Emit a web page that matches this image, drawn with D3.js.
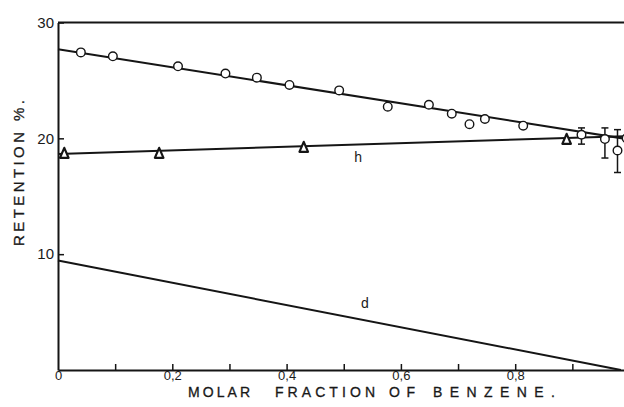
<!DOCTYPE html>
<html>
<head>
<meta charset="utf-8">
<script src="https://cdn.jsdelivr.net/npm/d3@7"></script>
<style>
  html, body { margin: 0; padding: 0; background: #fff; }
  svg { display: block; }
  text { font-family: "Liberation Sans", Arial, sans-serif; fill: #1a1a1a; }
</style>
</head>
<body>
<svg id="chart" width="624" height="407"></svg>
<script>
// Retention of the solute against molar fraction of benzene
const circleX = [0.040, 0.096, 0.210, 0.293, 0.348, 0.405, 0.492, 0.577, 0.649, 0.689, 0.720, 0.747, 0.814, 0.916, 0.957, 0.979, 0.995];
const circleY = [27.42, 27.08, 26.22, 25.59, 25.24, 24.61, 24.14, 22.73, 22.90, 22.13, 21.22, 21.67, 21.09, 20.31, 19.94, 18.95, 20.0];

// error bars on the benzene-rich end
const errX = [0.916, 0.957, 0.979];
const errLow = [19.5, 18.3, 17.05];
const errHigh = [20.9, 20.9, 20.75];

// series h (triangles)
const triX = [0.011, 0.177, 0.430, 0.890];
const triY = [18.73, 18.73, 19.25, 19.94];

// fitted straight lines
const upperFitX = [0, 1];
const upperFitY = [27.7, 19.9];
const hFitX = [0, 1];
const hFitY = [18.65, 20.2];
const dFitX = [0, 0.985];
const dFitY = [9.45, 0];

const xTickValues = [0, 0.2, 0.4, 0.6, 0.8];
const xTickLabels = ["0", "0,2", "0,4", "0,6", "0,8"];
const xMinorTicks = [0.1, 0.3, 0.5, 0.7, 0.9];
const yTickValues = [10, 20, 30];
const yTickLabels = ["10", "20", "30"];

// lettered x-axis title, one entry per word
const xTitleWords = ["MOLAR", "FRACTION", "OF", "BENZENE."];
const yTitle = "RETENTION %.";

const svg = d3.select("#chart");
const W = 624;

const x = d3.scaleLinear().domain([0, 1]).range([58, 629.5]);
const y = d3.scaleLinear().domain([0, 30]).range([370, 22.5]);

const ink = "#151515";
const font = "'Liberation Sans', Arial, sans-serif";

// frame: top border
svg.append("line")
  .attr("x1", x(0)).attr("x2", W)
  .attr("y1", y(30)).attr("y2", y(30))
  .attr("stroke", ink).attr("stroke-width", 2);

// x axis
const xAxis = d3.axisBottom(x)
  .tickValues(xTickValues.concat(xMinorTicks))
  .tickSizeInner(-6)
  .tickSizeOuter(0)
  .tickPadding(1)
  .tickFormat(d => {
    const i = xTickValues.findIndex(v => Math.abs(v - d) < 1e-9);
    return i >= 0 ? xTickLabels[i] : "";
  });
const gx = svg.append("g").attr("transform", `translate(0,${y(0)})`).call(xAxis);
gx.select(".domain").attr("stroke", ink).attr("stroke-width", 2);
gx.selectAll(".tick line").attr("stroke", ink).attr("stroke-width", 1.5);
gx.selectAll(".tick text").attr("font-size", 13).attr("fill", ink).style("font-family", font);
gx.selectAll(".tick").filter(d => d === 0).select("line").remove();

// y axis
const yAxis = d3.axisLeft(y)
  .tickValues(yTickValues)
  .tickSizeInner(-6)
  .tickSizeOuter(0)
  .tickPadding(4)
  .tickFormat((d, i) => yTickLabels[i]);
const gy = svg.append("g").attr("transform", `translate(${x(0)},0)`).call(yAxis);
gy.select(".domain").attr("stroke", ink).attr("stroke-width", 2);
gy.selectAll(".tick line").attr("stroke", ink).attr("stroke-width", 1.5);
gy.selectAll(".tick text").attr("font-size", 15).attr("fill", ink).style("font-family", font);

// x-axis title: each word spread over its own span
const xWordStart = [188, 275, 389, 433];
const xWordLen = [62, 100, 26, 122];
svg.append("g").selectAll("text")
  .data(xTitleWords)
  .join("text")
  .attr("x", (d, i) => xWordStart[i])
  .attr("y", 397)
  .attr("font-size", 14)
  .attr("stroke", ink).attr("stroke-width", 0.3)
  .attr("textLength", (d, i) => xWordLen[i])
  .attr("lengthAdjust", "spacing")
  .text(d => d);

// y-axis title
svg.append("text")
  .attr("transform", "translate(23.5,246) rotate(-90)")
  .attr("font-size", 15)
  .attr("stroke", ink).attr("stroke-width", 0.3)
  .attr("textLength", 146).attr("lengthAdjust", "spacing")
  .text(yTitle);

// fitted lines
const line = d3.line().x(d => x(d[0])).y(d => y(d[1]));
function drawFit(xs, ys) {
  svg.append("path")
    .datum(xs.map((v, i) => [v, ys[i]]))
    .attr("d", line)
    .attr("fill", "none")
    .attr("stroke", ink)
    .attr("stroke-width", 2);
}
drawFit(upperFitX, upperFitY);
drawFit(hFitX, hFitY);
drawFit(dFitX, dFitY);

// error bars
const eb = svg.append("g").attr("stroke", ink).attr("stroke-width", 1.5);
errX.forEach((v, i) => {
  eb.append("line").attr("x1", x(v)).attr("x2", x(v)).attr("y1", y(errLow[i])).attr("y2", y(errHigh[i]));
  [errLow[i], errHigh[i]].forEach(e => {
    eb.append("line").attr("x1", x(v) - 3.5).attr("x2", x(v) + 3.5).attr("y1", y(e)).attr("y2", y(e));
  });
});

// open circles
svg.append("g").selectAll("circle")
  .data(circleX.map((v, i) => [v, circleY[i]]))
  .join("circle")
  .attr("cx", d => x(d[0])).attr("cy", d => y(d[1]))
  .attr("r", 4.3)
  .attr("fill", "#fff")
  .attr("stroke", ink)
  .attr("stroke-width", 1.4);

// open triangles
const tri = "M0,-5.2L4.3,4.8L-4.3,4.8Z";
svg.append("g").selectAll("path")
  .data(triX.map((v, i) => [v, triY[i]]))
  .join("path")
  .attr("d", tri)
  .attr("transform", d => `translate(${x(d[0])},${y(d[1])})`)
  .attr("fill", "#fff")
  .attr("stroke", ink)
  .attr("stroke-width", 2.2)
  .attr("stroke-linejoin", "round");

// curve labels
svg.append("text").attr("x", x(0.525)).attr("y", y(17.98))
  .attr("text-anchor", "middle").attr("font-size", 14).text("h");
svg.append("text").attr("x", x(0.537)).attr("y", y(5.36))
  .attr("text-anchor", "middle").attr("font-size", 14).text("d");
</script>
</body>
</html>
